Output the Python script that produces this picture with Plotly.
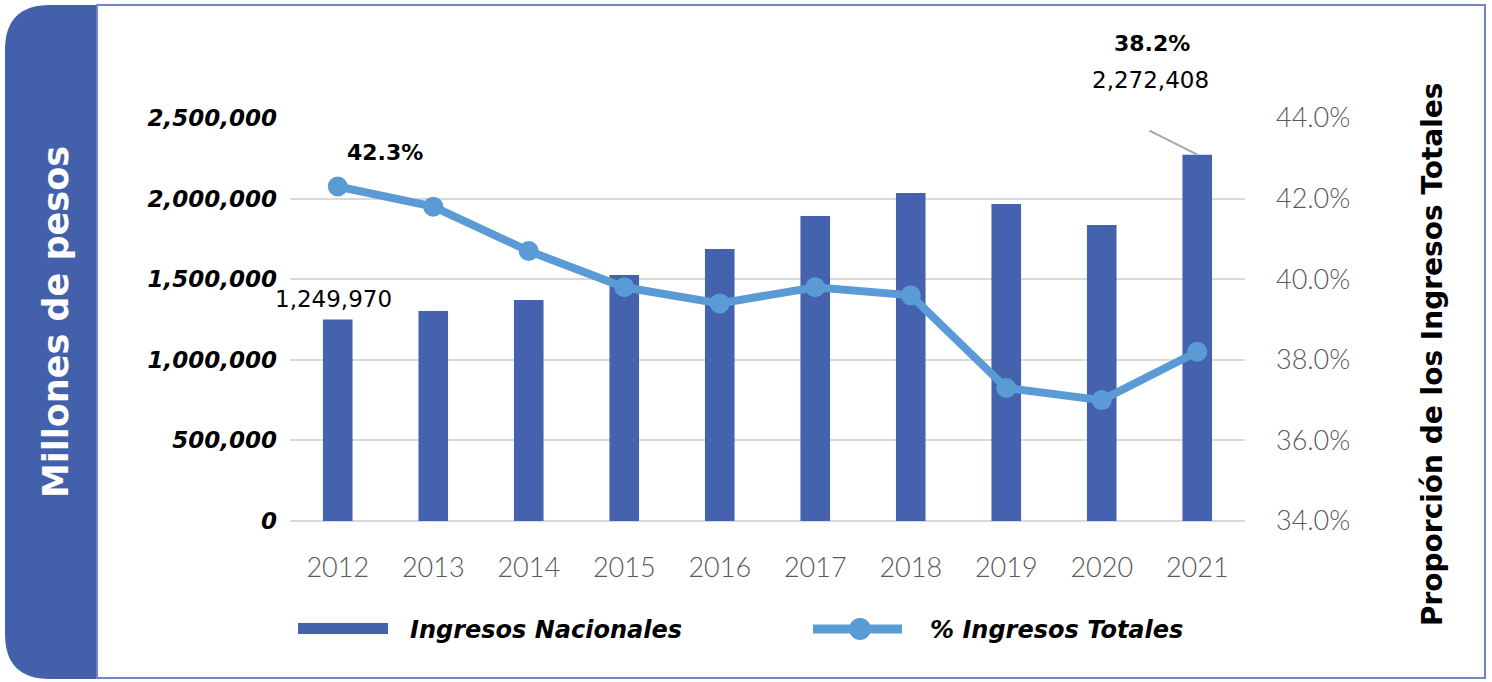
import plotly.graph_objects as go

# ---------------- data ----------------
years = ["2012", "2013", "2014", "2015", "2016", "2017", "2018", "2019", "2020", "2021"]
ingresos = [1249970, 1302000, 1371000, 1526000, 1687000, 1892000, 2035000, 1966000, 1836000, 2272408]
pct_totales = [42.3, 41.8, 40.7, 39.8, 39.4, 39.8, 39.6, 37.3, 37.0, 38.2]
left_tickvals = [0, 500000, 1000000, 1500000, 2000000, 2500000]
left_ticktext = ["0", "500,000", "1,000,000", "1,500,000", "2,000,000", "2,500,000"]
right_tickvals = [34, 36, 38, 40, 42, 44]
right_ticktext = [f"{v:.1f}%" for v in right_tickvals]
series_names = ["Ingresos Nacionales", "% Ingresos Totales"]
left_title = "Millones de pesos"
right_title = "Proporción de los Ingresos Totales"

# ---------------- style ----------------
W, H = 1492, 682
L, R, T, B = 290, 1245, 118, 521   # plot area in window pixel coords
BAR = "#4462ae"
LINE = "#5b9bd5"
PANEL = "#4360ab"
BORDER = "#7184c6"
GRID = "#d9d9d9"
GRAYTXT = "#595959"


def px(x):
    return (x - L) / (R - L)


def py(y):
    return (B - y) / (B - T)


fig = go.Figure()
fig.add_bar(x=years, y=ingresos, marker_color=BAR, marker_line_width=0, width=0.31,
            yaxis="y", showlegend=False, name=series_names[0])
fig.add_scatter(x=years, y=pct_totales, yaxis="y2", mode="lines+markers",
                line=dict(color=LINE, width=8), marker=dict(size=20, color=LINE),
                showlegend=False, name=series_names[1])

shapes = []
# left dark panel with rounded left corners
x0, x1, y0, y1, r = 5, 97, 5, 679, 45
path = (f"M {px(x1)},{py(y0)} L {px(x0 + r)},{py(y0)} "
        f"Q {px(x0)},{py(y0)} {px(x0)},{py(y0 + r)} "
        f"L {px(x0)},{py(y1 - r)} Q {px(x0)},{py(y1)} {px(x0 + r)},{py(y1)} "
        f"L {px(x1)},{py(y1)} Z")
shapes.append(dict(type="path", xref="paper", yref="paper", path=path,
                   fillcolor=PANEL, line=dict(width=0), layer="below"))
# white box border
shapes.append(dict(type="rect", xref="paper", yref="paper",
                   x0=px(97), x1=px(1485), y0=py(5), y1=py(678),
                   line=dict(color=BORDER, width=2), fillcolor="rgba(0,0,0,0)", layer="below"))
# leader line for 2021 label
shapes.append(dict(type="line", xref="x", yref="y", x0=8.5, y0=ingresos[-1] + 149000,
                   x1=9, y1=ingresos[-1], line=dict(color="#a6a6a6", width=2)))
# custom legend swatches
shapes.append(dict(type="rect", xref="paper", yref="paper", x0=px(298), x1=px(388),
                   y0=py(634), y1=py(623), fillcolor=BAR, line=dict(width=0)))
shapes.append(dict(type="line", xref="paper", yref="paper", x0=px(813), x1=px(902),
                   y0=py(629), y1=py(629), line=dict(color=LINE, width=9)))
shapes.append(dict(type="circle", xref="paper", yref="paper", x0=px(849), x1=px(871),
                   y0=py(640), y1=py(618), fillcolor=LINE, line=dict(width=0)))

annotations = [
    dict(text=left_title, xref="paper", yref="paper", x=px(56), y=py(322), textangle=-90,
         xanchor="center", yanchor="middle", showarrow=False,
         font=dict(family="DejaVu Sans", size=35, color="white", weight="bold")),
    dict(text=right_title, xref="paper", yref="paper", x=px(1432), y=py(355), textangle=-90,
         xanchor="center", yanchor="middle", showarrow=False,
         font=dict(family="DejaVu Sans", size=28, color="black", weight="bold")),
    dict(text=series_names[0], xref="paper", yref="paper", x=px(408), y=py(630),
         xanchor="left", yanchor="middle", showarrow=False,
         font=dict(family="DejaVu Sans", size=24, color="black", weight="bold", style="italic")),
    dict(text=series_names[1], xref="paper", yref="paper", x=px(928), y=py(630),
         xanchor="left", yanchor="middle", showarrow=False,
         font=dict(family="DejaVu Sans", size=24, color="black", weight="bold", style="italic")),
    dict(text=f"{pct_totales[0]:.1f}%", x=0, y=pct_totales[0], xref="x", yref="y2",
         xshift=47, yshift=34, showarrow=False, xanchor="center", yanchor="middle",
         font=dict(family="DejaVu Sans", size=22, color="black", weight="bold")),
    dict(text=f"{ingresos[0]:,}", x=0, y=ingresos[0], xref="x", yref="y",
         xshift=-4, yshift=21, showarrow=False, xanchor="center", yanchor="middle",
         font=dict(family="DejaVu Sans", size=23, color="black")),
    dict(text=f"{pct_totales[-1]:.1f}%", x=9, y=ingresos[-1], xref="x", yref="y",
         xshift=-45, yshift=111, showarrow=False, xanchor="center", yanchor="middle",
         font=dict(family="DejaVu Sans", size=22, color="black", weight="bold")),
    dict(text=f"{ingresos[-1]:,}", x=9, y=ingresos[-1], xref="x", yref="y",
         xshift=-47, yshift=75, showarrow=False, xanchor="center", yanchor="middle",
         font=dict(family="DejaVu Sans", size=23, color="black")),
]

fig.update_layout(
    width=W, height=H,
    margin=dict(l=L, r=W - R, t=T, b=H - B, autoexpand=False),
    paper_bgcolor="white", plot_bgcolor="white",
    showlegend=False,
    xaxis=dict(type="category", range=[-0.5, 9.5], showgrid=False, showline=False,
               zeroline=False, ticks="", ticklabelstandoff=28,
               tickfont=dict(family="Lato", size=27, color=GRAYTXT, weight=300)),
    yaxis=dict(range=[0, 2500000], tickvals=left_tickvals, ticktext=left_ticktext,
               showgrid=True, gridcolor=GRID, gridwidth=2, zeroline=True,
               zerolinecolor=GRID, zerolinewidth=2, showline=False, ticks="",
               ticklabelstandoff=12,
               tickfont=dict(family="DejaVu Sans", size=23, color="black",
                             weight="bold", style="italic")),
    yaxis2=dict(range=[34, 44], overlaying="y", side="right", tickvals=right_tickvals,
                ticktext=right_ticktext, showgrid=False, zeroline=False,
                showline=False, ticks="", ticklabelstandoff=30,
                tickfont=dict(family="Lato", size=27, color=GRAYTXT, weight=300)),
    shapes=shapes,
    annotations=annotations,
)

fig.write_html("out.html", config={"displayModeBar": False},
               post_script="document.body.style.margin='0';")
